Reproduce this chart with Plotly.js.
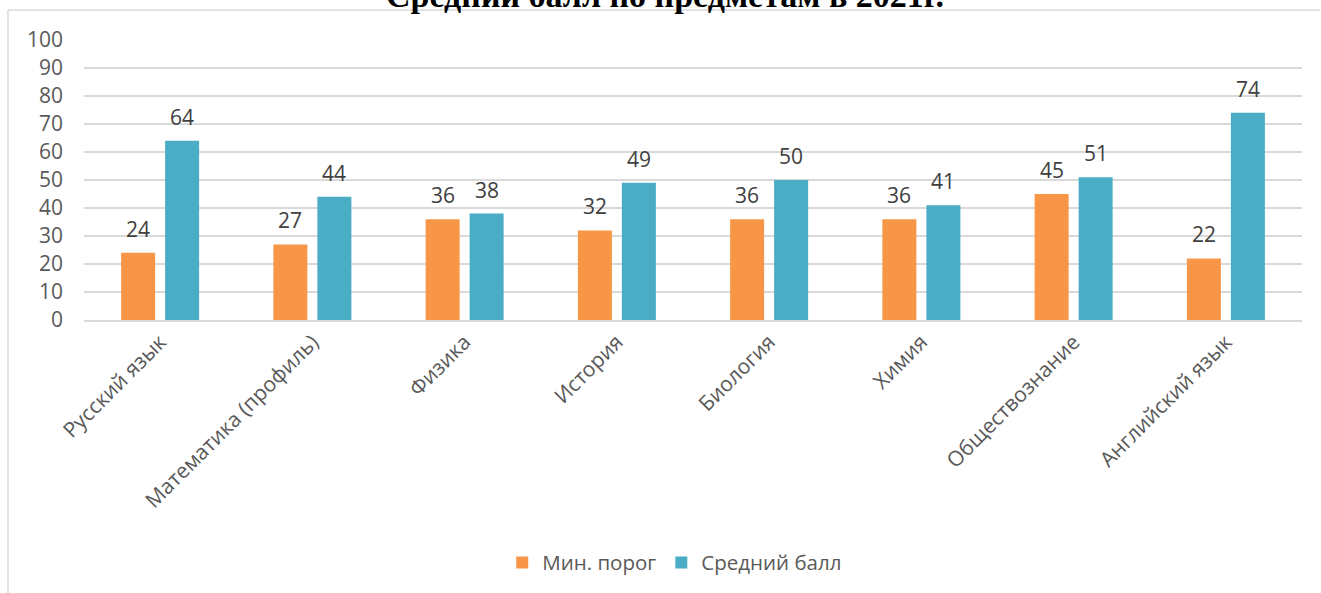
<!DOCTYPE html>
<html>
<head>
<meta charset="utf-8">
<script src="https://cdn.plot.ly/plotly-3.0.1.min.js"></script>
<style>html,body{margin:0;padding:0;background:#fff;}#chart{width:1321px;height:593px;}</style>
</head>
<body>
<div id="chart"></div>
<script>
const categories = ["Русский язык", "Математика (профиль)", "Физика", "История", "Биология", "Химия", "Обществознание", "Английский язык"];
const minThreshold = [24, 27, 36, 32, 36, 36, 45, 22];
const avgScore = [64, 44, 38, 49, 50, 41, 51, 74];
const seriesNames = ["Мин. порог", "Средний балл"];
const yTicks = [0, 10, 20, 30, 40, 50, 60, 70, 80, 90, 100];

const font = "Open Sans, Noto Sans, sans-serif";
const traces = [
  {type: "bar", name: seriesNames[0], x: categories, y: minThreshold, marker: {color: "#F79646"}},
  {type: "bar", name: seriesNames[1], x: categories, y: avgScore, marker: {color: "#4BACC6"}}
];
const annotations = [];
[minThreshold, avgScore].forEach((vals, si) => {
  vals.forEach((v, i) => {
    annotations.push({x: categories[i], y: v, xref: "x", yref: "y", text: String(v), showarrow: false,
      xshift: si === 0 ? -22 : 22, yshift: 8, yanchor: "bottom", xanchor: "center",
      font: {size: 21, color: "#404040", family: font}});
  });
});
annotations.push({xref: "paper", yref: "paper", x: 0.477, y: 1.087, xanchor: "center", yanchor: "bottom", showarrow: false,
  text: "<b>Средний балл по предметам в 2021г.</b>", font: {family: "Liberation Serif, Times New Roman, serif", size: 34, color: "#000"}});

const layout = {
  width: 1321, height: 593,
  margin: {l: 84, r: 19, t: 40, b: 272, pad: 0},
  paper_bgcolor: "#fff", plot_bgcolor: "#fff",
  font: {family: font, color: "#595959", size: 20},
  barmode: "group", bargap: 0.422, bargroupgap: 0.227,
  xaxis: {tickangle: -45, tickfont: {size: 21, color: "#595959"}, showline: true, linecolor: "#d9d9d9", linewidth: 1.5,
          ticks: "", showgrid: false, automargin: false},
  yaxis: {range: [0, 100], tickvals: yTicks, ticktext: yTicks.map(String), tickfont: {size: 21, color: "#595959"},
          showgrid: true, gridcolor: "#d9d9d9", gridwidth: 1.5, zeroline: false, showline: false, ticks: "",
          ticklabelstandoff: 20, automargin: false},
  legend: {orientation: "h", x: 0.485, xanchor: "center", y: -0.86, yanchor: "middle", font: {size: 20.5, color: "#595959"},
           itemwidth: 30, traceorder: "normal"},
  annotations: annotations,
  shapes: [
    {type: "line", xref: "paper", yref: "paper", x0: -0.0624, x1: -0.0624, y0: 1.1068, y1: -1.2, line: {color: "#d9d9d9", width: 1.5}},
    {type: "line", xref: "paper", yref: "paper", x0: -0.0624, x1: 1.0148, y0: 1.1068, y1: 1.1068, line: {color: "#d9d9d9", width: 1.5}}
  ],
  showlegend: true
};
Plotly.newPlot("chart", traces, layout, {displayModeBar: false, staticPlot: true});
</script>
</body>
</html>
